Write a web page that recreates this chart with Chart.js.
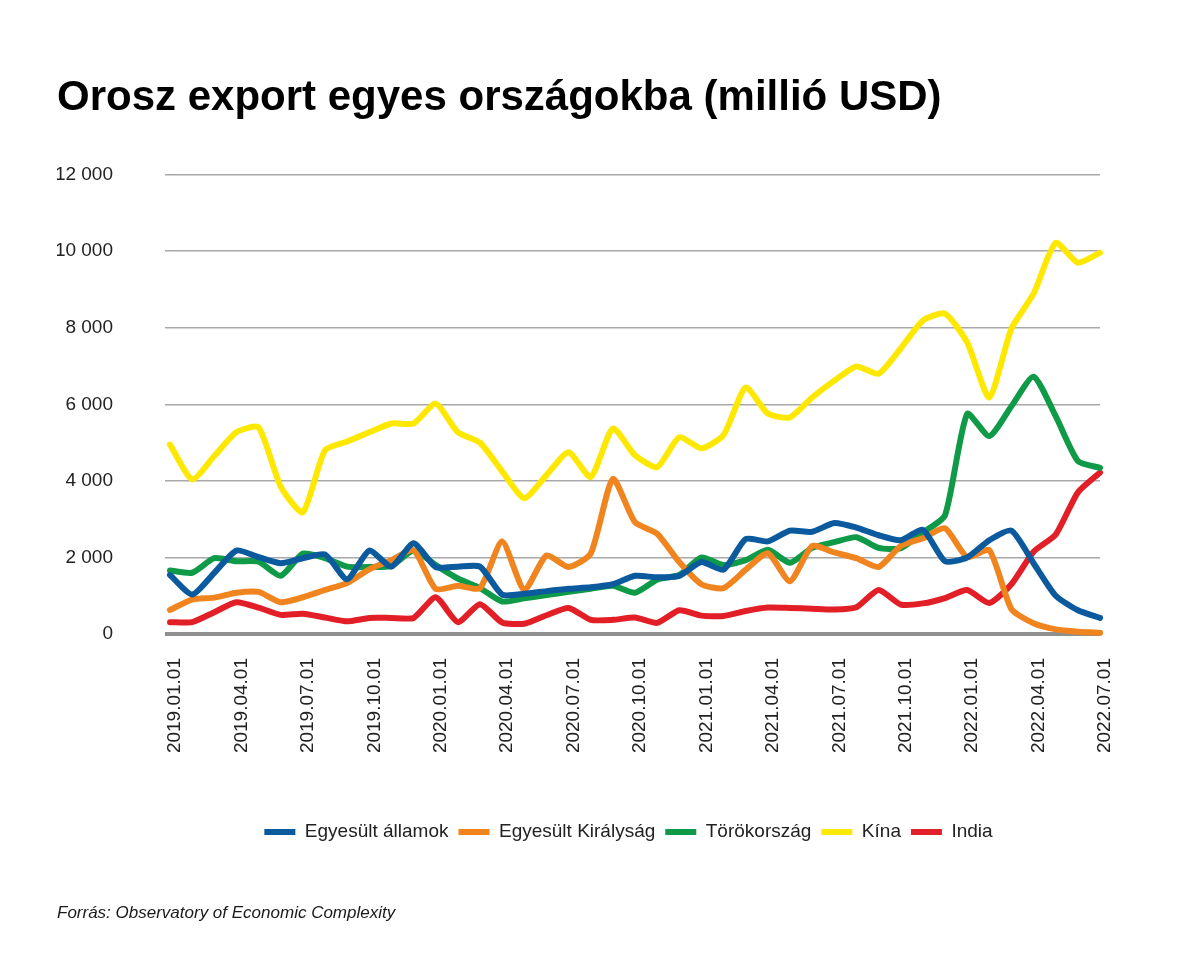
<!DOCTYPE html>
<html>
<head>
<meta charset="utf-8">
<script src="https://cdn.jsdelivr.net/npm/chart.js@4"></script>
<style>
  html, body { margin: 0; padding: 0; background: #ffffff; }
  #c { display: block; }
</style>
</head>
<body>
<canvas id="c" width="1200" height="959"></canvas>
<script>
const months = [
  "2019.01.01","2019.02.01","2019.03.01","2019.04.01","2019.05.01","2019.06.01",
  "2019.07.01","2019.08.01","2019.09.01","2019.10.01","2019.11.01","2019.12.01",
  "2020.01.01","2020.02.01","2020.03.01","2020.04.01","2020.05.01","2020.06.01",
  "2020.07.01","2020.08.01","2020.09.01","2020.10.01","2020.11.01","2020.12.01",
  "2021.01.01","2021.02.01","2021.03.01","2021.04.01","2021.05.01","2021.06.01",
  "2021.07.01","2021.08.01","2021.09.01","2021.10.01","2021.11.01","2021.12.01",
  "2022.01.01","2022.02.01","2022.03.01","2022.04.01","2022.05.01","2022.06.01",
  "2022.07.01"
];

const egyesultAllamok = [1540,1030,1600,2180,2010,1850,1980,2080,1430,2180,1760,2370,1750,1760,1760,1030,1050,1120,1180,1220,1300,1520,1480,1520,1880,1680,2480,2420,2700,2670,2900,2780,2580,2450,2720,1900,2000,2450,2700,1850,1000,620,420];
const egyesultKiralysag = [630,900,950,1080,1100,830,960,1150,1330,1690,1930,2190,1180,1260,1200,2420,1150,2050,1750,2100,4050,2920,2620,1880,1300,1200,1680,2110,1380,2300,2130,1980,1750,2300,2500,2760,2010,2190,650,280,120,60,30];
const torokorszag = [1660,1600,1980,1900,1890,1520,2100,1980,1760,1750,1780,2180,1800,1450,1200,850,930,1020,1100,1180,1260,1080,1420,1540,2000,1800,1930,2200,1860,2250,2400,2530,2250,2240,2650,3100,5750,5170,5950,6720,5690,4520,4340];
const kina = [4950,4040,4650,5270,5400,3850,3180,4800,5030,5270,5500,5500,6020,5270,5000,4250,3550,4150,4750,4100,5370,4670,4360,5140,4850,5200,6440,5760,5660,6180,6620,6990,6800,7460,8190,8370,7620,6180,7980,8890,10220,9700,9960];
const india = [310,310,570,830,690,500,530,430,330,420,420,420,960,310,780,300,270,490,680,370,370,430,290,620,480,470,600,690,680,660,640,700,1150,770,800,940,1150,810,1300,2150,2600,3700,4220];

const seriesNames = ["Egyesült államok","Egyesült Királyság","Törökország","Kína","India"];
const seriesColors = ["#0b5a9e","#f0841e","#0f9a48","#ffe800","#e21f27"];
const seriesValues = [egyesultAllamok, egyesultKiralysag, torokorszag, kina, india];

const FONT = "'Liberation Sans', Arial, Helvetica, sans-serif";
const fmt = v => String(v).replace(/\B(?=(\d{3})+(?!\d))/g, " ");

const datasets = seriesNames.map((name, i) => ({
  label: name,
  data: seriesValues[i],
  borderColor: seriesColors[i],
  backgroundColor: seriesColors[i],
  borderWidth: 6,
  pointRadius: 0,
  pointHoverRadius: 0,
  tension: 0.2,
  borderCapStyle: "round",
  borderJoinStyle: "round",
  clip: false,
  yAxisID: "y"
}));

new Chart(document.getElementById("c"), {
  type: "line",
  data: { labels: months, datasets },
  options: {
    responsive: false,
    animation: false,
    events: [],
    layout: { padding: { left: 57, right: 0, top: 0, bottom: 0 } },
    scales: {
      x: {
        type: "category",
        offset: false,
        grid: { display: false, drawTicks: false },
        border: { display: false },
        ticks: {
          autoSkip: false,
          minRotation: 90,
          maxRotation: 90,
          padding: 24,
          labelOffset: 5,
          color: "#222222",
          font: { family: FONT, size: 19 },
          callback: (v, i) => (i % 3 === 0 ? months[i] : "")
        },
        afterFit: s => { s.height = 178.5; }
      },
      y: {
        type: "linear",
        position: "left",
        min: 0,
        max: 12000,
        border: { display: false },
        grid: {
          drawTicks: true,
          tickLength: 5,
          color: c => (c.tick && c.tick.value === 0 ? "#8f8f8f" : "#a8a8a8"),
          tickColor: c => (c.tick && c.tick.value === 0 ? "#8f8f8f" : "#a8a8a8"),
          lineWidth: c => (c.tick && c.tick.value === 0 ? 4 : 1.5)
        },
        ticks: {
          stepSize: 2000,
          padding: 52,
          color: "#222222",
          font: { family: FONT, size: 19 },
          callback: v => fmt(v)
        },
        afterFit: s => { s.width = 113; }
      },
      yR: {
        type: "linear",
        position: "right",
        display: true,
        grid: { display: false, drawTicks: false },
        border: { display: false },
        ticks: { display: false },
        afterFit: s => { s.width = 100; }
      }
    },
    plugins: {
      tooltip: { enabled: false },
      title: {
        display: true,
        text: "Orosz export egyes országokba (millió USD)",
        align: "start",
        color: "#000000",
        font: { family: FONT, size: 42, weight: "bold" },
        padding: { top: 73, bottom: 51.3 }
      },
      subtitle: {
        display: true,
        position: "bottom",
        text: "Forrás: Observatory of Economic Complexity",
        align: "start",
        color: "#1a1a1a",
        font: { family: FONT, size: 17, style: "italic" },
        padding: { top: 51.3, bottom: 35.8 }
      },
      legend: {
        display: true,
        position: "bottom",
        labels: {
          boxWidth: 31,
          boxHeight: 6,
          padding: 10,
          color: "#222222",
          font: { family: FONT, size: 19 },
          generateLabels: chart =>
            Chart.defaults.plugins.legend.labels.generateLabels(chart).map(l => ({ ...l, lineWidth: 0 }))
        }
      }
    }
  }
});
</script>
</body>
</html>
